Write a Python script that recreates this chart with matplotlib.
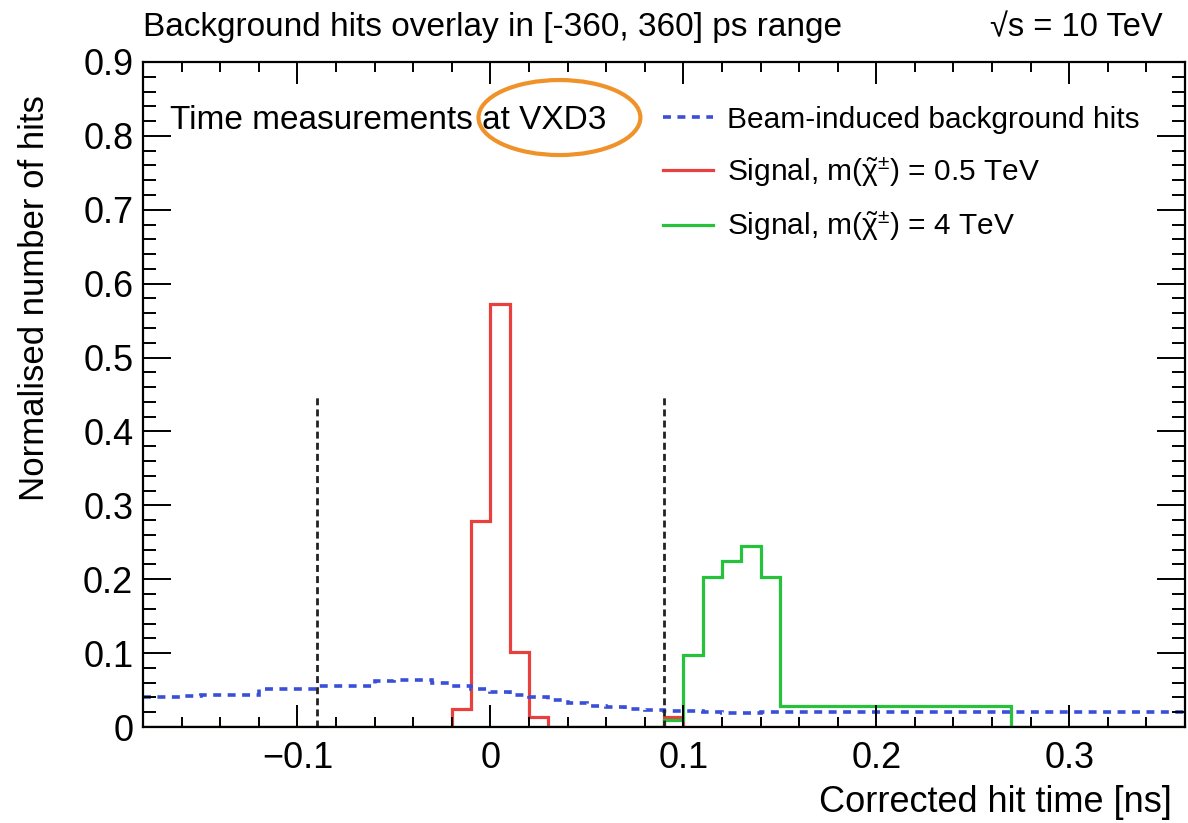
import numpy as np
import matplotlib
matplotlib.use('Agg')
import matplotlib.pyplot as plt
from matplotlib.patches import Ellipse

plt.rcParams['font.family'] = ['Liberation Sans', 'DejaVu Sans']
plt.rcParams['mathtext.fontset'] = 'custom'
plt.rcParams['mathtext.rm'] = 'Liberation Sans'
plt.rcParams['mathtext.it'] = 'Liberation Sans:italic'
plt.rcParams['mathtext.sf'] = 'Liberation Sans'

# Bin edges (ns), 0.01 ns bins from -0.18 to 0.36
binEdges = np.round(np.arange(-0.18, 0.3601, 0.01), 3)

# Beam-induced background hits (normalised)
bibValues = [0.041, 0.041, 0.042, 0.044, 0.044, 0.044, 0.051, 0.051, 0.051,
             0.056, 0.056, 0.056, 0.062, 0.063, 0.063, 0.060, 0.055, 0.051,
             0.047, 0.044, 0.040, 0.036, 0.033, 0.029, 0.027, 0.025, 0.023,
             0.022, 0.022, 0.020, 0.019, 0.019, 0.021] + [0.021] * 21

# Signal m = 0.5 TeV
sig05Values = [0.0] * 16 + [0.025, 0.279, 0.572, 0.102, 0.013] + [0.0] * 6 + \
              [0.013] + [0.0] * 26

# Signal m = 4 TeV
sig4Values = [0.0] * 27 + [0.009, 0.097, 0.203, 0.225, 0.245, 0.203] + \
             [0.028] * 12 + [0.0] * 9

# Time window cut (ns) and line height
cortes = [-0.09, 0.09]
alturaCorte = 0.45

fig = plt.figure(figsize=(11.88, 8.23), dpi=100)
ax = fig.add_axes([0.1204, 0.1166, 0.8771, 0.8081])

ax.stairs(sig05Values, binEdges, color='#e8403f', linewidth=2.3, baseline=0)
ax.stairs(sig4Values, binEdges, color='#27c23c', linewidth=2.3, baseline=0)
ax.stairs(bibValues, binEdges, color='#3a4fd8', linewidth=2.6, baseline=None,
          linestyle=(0, (2.2, 1.8)))

for c in cortes:
    ax.plot([c, c], [0, alturaCorte], color='#222222', linewidth=2.0,
            linestyle=(0, (2.5, 1.5)))

ax.set_xlim(-0.18, 0.36)
ax.set_ylim(0, 0.9)
ax.set_xticks([-0.1, 0, 0.1, 0.2, 0.3])
ax.set_xticklabels(['\u22120.1', '0', '0.1', '0.2', '0.3'])
ax.set_xticks(np.arange(-0.18, 0.361, 0.02), minor=True)
ax.set_yticks(np.arange(0, 0.91, 0.1))
ax.set_yticklabels(['0', '0.1', '0.2', '0.3', '0.4', '0.5', '0.6', '0.7', '0.8', '0.9'])
ax.set_yticks(np.arange(0, 0.901, 0.02), minor=True)

for s in ax.spines.values():
    s.set_linewidth(1.6)
ax.tick_params(axis='both', which='both', direction='in', top=True, right=True,
               labelsize=26, width=1.4)
ax.tick_params(axis='x', which='major', length=16, pad=10)
ax.tick_params(axis='x', which='minor', length=7.5)
ax.tick_params(axis='y', which='major', length=20, pad=7)
ax.tick_params(axis='y', which='minor', length=9.5)

ax.set_xlabel('Corrected hit time [ns]', fontsize=26, loc='right')
ax.xaxis.set_label_coords(0.9875, -0.087)
ax.set_ylabel('Normalised number of hits', fontsize=25, loc='top')
ax.yaxis.set_label_coords(-0.088, 0.95)

fig.text(0.1204, 0.966, 'Background hits overlay in [-360, 360] ps range',
         fontsize=24, ha='left', va='center')
fig.text(0.979, 0.966, '\u221as = 10 TeV', fontsize=23.5,
         ha='right', va='center')

ax.text(-0.166, 0.821, 'Time measurements at VXD3', fontsize=24,
        ha='left', va='center')

ax.add_patch(Ellipse((0.0358, 0.8248), 0.0839, 0.1015, fill=False,
                     edgecolor='#f0922a', linewidth=3))

handles = [
    plt.Line2D([], [], color='#3a4fd8', linewidth=2.6, linestyle=(0, (2.2, 1.8))),
    plt.Line2D([], [], color='#e8403f', linewidth=2.3),
    plt.Line2D([], [], color='#27c23c', linewidth=2.3),
]
labels = ['Beam-induced background hits',
          r'Signal, m($\tilde{\mathrm{χ}}^{\pm}$) = 0.5 TeV',
          r'Signal, m($\tilde{\mathrm{χ}}^{\pm}$) = 4 TeV']
ax.legend(handles, labels, loc='upper left', bbox_to_anchor=(0.499, 0.934),
          frameon=False, fontsize=21.5, handlelength=1.67, handletextpad=0.47,
          labelspacing=0.7, borderpad=0, borderaxespad=0)

fig.savefig('out.png', dpi=100)
